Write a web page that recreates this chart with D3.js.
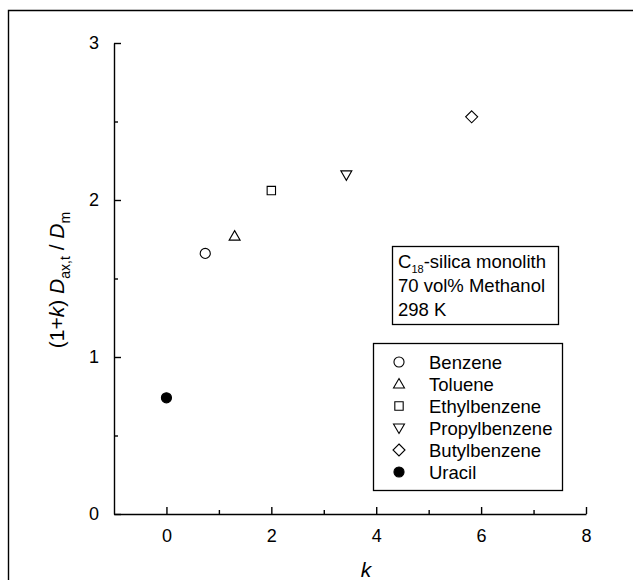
<!DOCTYPE html>
<html>
<head>
<meta charset="utf-8">
<script src="https://cdn.jsdelivr.net/npm/d3@7"></script>
<style>
  html, body { margin: 0; background: #fff; overflow: hidden; }
  svg { display: block; font-family: Arial, "Liberation Sans", sans-serif; }
  .axis path, .axis line { stroke: #000; stroke-width: 1.4px; }
  .axis text { font-size: 18px; fill: #000; }
</style>
</head>
<body>
<svg id="chart" width="633" height="580"></svg>
<script>
// data
const names = ["Benzene", "Toluene", "Ethylbenzene", "Propylbenzene", "Butylbenzene", "Uracil"];
const kVals = [0.74, 1.30, 2.00, 3.43, 5.82, 0.00];
const dVals = [1.66, 1.77, 2.06, 2.16, 2.53, 0.74];
const symbolTypes = ["circle", "triangle", "square", "triangleDown", "diamond", "dot"];
const xTicks = [0, 2, 4, 6, 8];
const xMinor = [1, 3, 5, 7];
const yTicks = [0, 1, 2, 3];
const yMinor = [0.5, 1.5, 2.5];
const infoLines = ["70 vol% Methanol", "298 K"];

const svg = d3.select("#chart");

// outer frame (only top and left visible)
svg.append("path")
  .attr("d", "M8.5,600 L8.5,10.5 L640,10.5")
  .attr("fill", "none").attr("stroke", "#000").attr("stroke-width", 1.4);

const x = d3.scaleLinear().domain([-1, 8]).range([114, 586]);
const y = d3.scaleLinear().domain([0, 3]).range([514, 43]);

// x axis
const gx = svg.append("g").attr("class", "axis").attr("transform", "translate(0,514)");
gx.call(d3.axisBottom(x).tickValues(xTicks).tickFormat(d3.format("d")).tickSize(-7).tickSizeOuter(0).tickPadding(15));
gx.append("g").call(d3.axisBottom(x).tickValues(xMinor).tickSize(-4).tickSizeOuter(0).tickFormat(""))
  .select(".domain").remove();

// y axis
const gy = svg.append("g").attr("class", "axis").attr("transform", "translate(114,0)");
gy.call(d3.axisLeft(y).tickValues(yTicks).tickFormat(d3.format("d")).tickSize(-7).tickSizeOuter(0).tickPadding(15));
gy.append("g").call(d3.axisLeft(y).tickValues(yMinor).tickSize(-4).tickSizeOuter(0).tickFormat(""))
  .select(".domain").remove();

// axis titles
svg.append("text")
  .attr("x", 366).attr("y", 577)
  .attr("text-anchor", "middle")
  .style("font-size", "21px").style("font-style", "italic")
  .text("k");

const yl = svg.append("text")
  .attr("transform", "translate(64,280) rotate(-90)")
  .attr("text-anchor", "middle")
  .style("font-size", "21px");
yl.append("tspan").text("(1+");
yl.append("tspan").style("font-style", "italic").text("k");
yl.append("tspan").text(") ");
yl.append("tspan").style("font-style", "italic").text("D");
yl.append("tspan").attr("dy", 6).style("font-size", "14px").text("ax,t");
yl.append("tspan").attr("dy", -6).text(" / ");
yl.append("tspan").style("font-style", "italic").text("D");
yl.append("tspan").attr("dy", 6).style("font-size", "14px").text("m");

// symbol paths
function symbolPath(type) {
  if (type === "circle") return d3.symbol(d3.symbolCircle, 80)();
  if (type === "dot") return d3.symbol(d3.symbolCircle, 80)();
  if (type === "square") return d3.symbol(d3.symbolSquare, 70)();
  if (type === "triangle") return "M0,-5.5 L5.5,4 L-5.5,4 Z";
  if (type === "triangleDown") return "M0,5.5 L5.5,-4 L-5.5,-4 Z";
  if (type === "diamond") return "M0,-6 L6,0 L0,6 L-6,0 Z";
}

const pts = names.map((n, i) => ({ name: n, k: kVals[i], d: dVals[i], type: symbolTypes[i] }));

svg.append("g").selectAll("path")
  .data(pts)
  .join("path")
  .attr("transform", d => `translate(${x(d.k)},${y(d.d)})`)
  .attr("d", d => symbolPath(d.type))
  .attr("fill", d => d.type === "dot" ? "#000" : "none")
  .attr("stroke", "#000")
  .attr("stroke-width", 1.1);

// info box
svg.append("rect")
  .attr("x", 392.5).attr("y", 246.5).attr("width", 166).attr("height", 78)
  .attr("fill", "#fff").attr("stroke", "#000").attr("stroke-width", 1.3);
const t1 = svg.append("text").attr("x", 398).attr("y", 268).style("font-size", "18.5px");
t1.append("tspan").text("C");
t1.append("tspan").attr("dy", 5).style("font-size", "11px").text("18");
t1.append("tspan").attr("dy", -5).text("-silica monolith");
svg.selectAll(".info")
  .data(infoLines)
  .join("text")
  .attr("class", "info")
  .attr("x", 398).attr("y", (d, i) => 292 + i * 24)
  .style("font-size", "18.5px")
  .text(d => d);

// legend
svg.append("rect")
  .attr("x", 373.5).attr("y", 343.5).attr("width", 189).attr("height", 147)
  .attr("fill", "#fff").attr("stroke", "#000").attr("stroke-width", 1.3);
const lg = svg.append("g").selectAll("g")
  .data(pts)
  .join("g")
  .attr("transform", (d, i) => `translate(399,${362 + i * 22})`);
lg.append("path")
  .attr("d", d => symbolPath(d.type))
  .attr("fill", d => d.type === "dot" ? "#000" : "none")
  .attr("stroke", "#000")
  .attr("stroke-width", 1.1);
lg.append("text")
  .attr("x", 30).attr("y", 6.5)
  .style("font-size", "18.5px")
  .text(d => d.name);
</script>
</body>
</html>
